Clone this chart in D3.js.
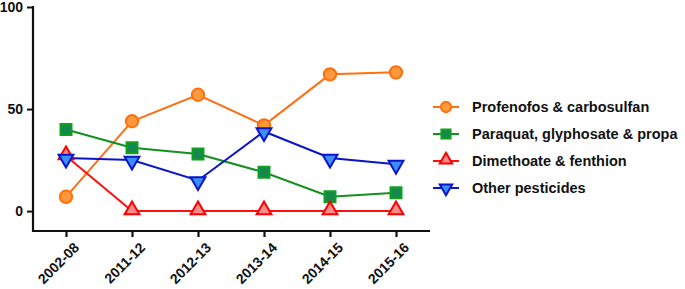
<!DOCTYPE html>
<html>
<head>
<meta charset="utf-8">
<script src="https://cdn.jsdelivr.net/npm/d3@7"></script>
<style>
  body { margin: 0; background: #fff; }
  svg { display: block; font-family: "Liberation Sans", Arial, sans-serif; }
</style>
</head>
<body>
<div id="chart"></div>
<script>
"use strict";

// categories and series
var years = ["2002-08", "2011-12", "2012-13", "2013-14", "2014-15", "2015-16"];
var profenofos = [7, 44, 57, 42, 67, 68];
var paraquat = [40, 31, 28, 19, 7, 9];
var dimethoate = [27, 0, 0, 0, 0, 0];
var otherPest = [26, 25, 15, 39, 26, 23];
var yTicks = [0, 50, 100];

var series = [
  { name: "Profenofos & carbosulfan", values: profenofos, line: "#ff6f0f", fill: "#ff9a3c", stroke: "#ff6f0f", sym: "circle" },
  { name: "Paraquat, glyphosate & propa", values: paraquat, line: "#13901f", fill: "#138a4c", stroke: "#10a020", sym: "square" },
  { name: "Dimethoate & fenthion", values: dimethoate, line: "#ff1010", fill: "#ff8a8a", stroke: "#ff0000", sym: "triangle" },
  { name: "Other pesticides", values: otherPest, line: "#0a14c8", fill: "#3d8dff", stroke: "#0a14c8", sym: "down" }
];

var W = 685, H = 289;
var svg = d3.select("#chart").append("svg")
  .attr("width", W).attr("height", H);

var x = d3.scalePoint().domain(years).range([66, 396]);
var y = d3.scaleLinear().domain([-10, 100]).range([231.5, 7]);

// y axis
var yAxis = d3.axisLeft(y).tickValues(yTicks).tickSize(6).tickPadding(4);
var gy = svg.append("g").attr("transform", "translate(33,0)").call(yAxis);
gy.select(".domain").attr("stroke", "#111").attr("stroke-width", 2.2).attr("d", "M0,6V231.5");
gy.selectAll(".tick line").attr("stroke", "#111").attr("stroke-width", 2);
gy.selectAll(".tick text").attr("font-size", 14).attr("font-weight", "bold").attr("fill", "#111");

// x axis
var xAxis = d3.axisBottom(x).tickSize(6).tickPadding(4);
var gx = svg.append("g").attr("transform", "translate(0,231)").call(xAxis);
gx.select(".domain").attr("stroke", "#111").attr("stroke-width", 2.2).attr("d", "M32,0H430");
gx.selectAll(".tick line").attr("stroke", "#111").attr("stroke-width", 2.2);
gx.selectAll(".tick text")
  .attr("font-size", 14).attr("font-weight", "bold").attr("fill", "#111")
  .attr("text-anchor", "end")
  .attr("dy", "0.35em")
  .attr("transform", "translate(3,7) rotate(-45)");

var symType = {
  circle: d3.symbolCircle,
  square: d3.symbolSquare,
  triangle: d3.symbolTriangle,
  down: d3.symbolTriangle
};
var symSize = { circle: 120, square: 120, triangle: 95, down: 95 };

function symbolPath(s, k) {
  return d3.symbol().type(symType[s.sym]).size(symSize[s.sym] * (k || 1))();
}

var line = d3.line()
  .x(function (d, i) { return x(years[i]); })
  .y(function (d) { return y(d); });

// lines first, then markers
series.forEach(function (s) {
  svg.append("path")
    .attr("d", line(s.values))
    .attr("fill", "none")
    .attr("stroke", s.line)
    .attr("stroke-width", 2);
});

series.forEach(function (s) {
  svg.append("g").selectAll("path")
    .data(s.values)
    .enter()
    .append("path")
    .attr("d", symbolPath(s))
    .attr("transform", function (d, i) {
      var t = "translate(" + x(years[i]) + "," + y(d) + ")";
      if (s.sym === "triangle") t += " translate(0,-1)";
      if (s.sym === "down") t += " translate(0,1) rotate(180)";
      return t;
    })
    .attr("fill", s.fill)
    .attr("stroke", s.stroke)
    .attr("stroke-width", 2);
});

// legend
var legend = svg.append("g");
series.forEach(function (s, i) {
  var ly = 107 + i * 27;
  var g = legend.append("g").attr("transform", "translate(0," + ly + ")");
  g.append("line")
    .attr("x1", 433).attr("x2", 459)
    .attr("stroke", s.line).attr("stroke-width", 2);
  g.append("path")
    .attr("d", symbolPath(s, 0.7))
    .attr("transform", "translate(446,0)" + (s.sym === "down" ? " rotate(180)" : (s.sym === "triangle" ? " translate(0,-1)" : "")))
    .attr("fill", s.fill).attr("stroke", s.stroke).attr("stroke-width", 2);
  g.append("text")
    .attr("x", 472).attr("y", 0).attr("dy", "0.35em")
    .attr("font-size", 14.5).attr("font-weight", "bold").attr("fill", "#111")
    .text(s.name);
});
</script>
</body>
</html>
